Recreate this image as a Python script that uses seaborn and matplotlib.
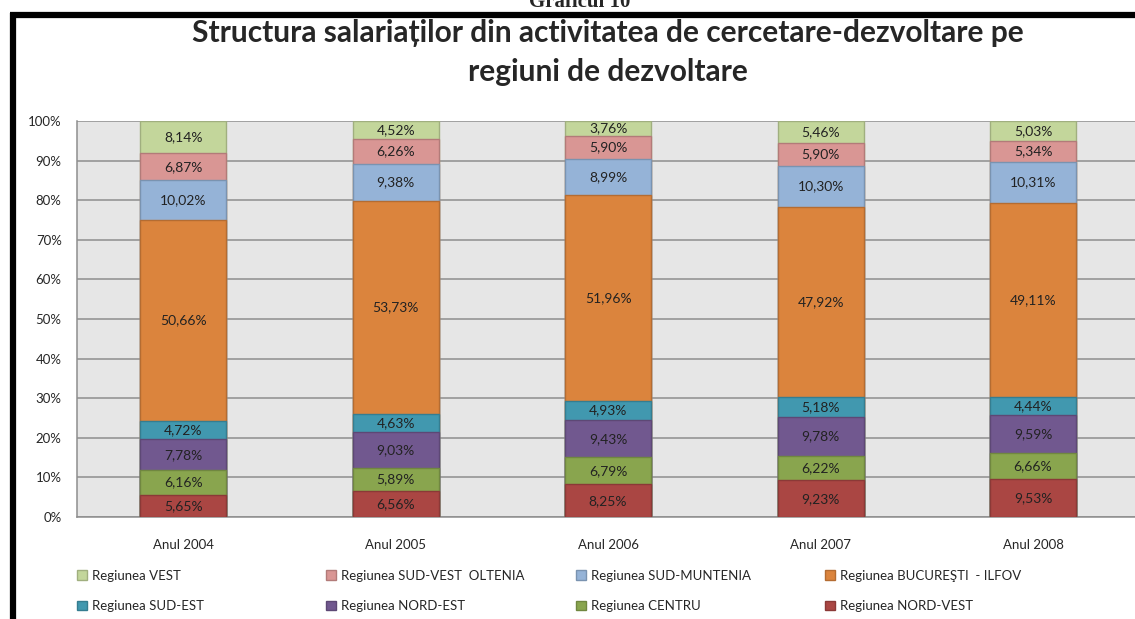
import numpy as np
import pandas as pd
import seaborn as sns
import matplotlib.pyplot as plt
import matplotlib.colors as mcolors
from matplotlib.lines import Line2D
from matplotlib.patches import Patch

ani = ['Anul 2004', 'Anul 2005', 'Anul 2006', 'Anul 2007', 'Anul 2008']

# serii de jos in sus
nord_vest = [5.65, 6.56, 8.25, 9.23, 9.53]
centru = [6.16, 5.89, 6.79, 6.22, 6.66]
nord_est = [7.78, 9.03, 9.43, 9.78, 9.59]
sud_est = [4.72, 4.63, 4.93, 5.18, 4.44]
bucuresti = [50.66, 53.73, 51.96, 47.92, 49.11]
sud_muntenia = [10.02, 9.38, 8.99, 10.30, 10.31]
sud_vest = [6.87, 6.26, 5.90, 5.90, 5.34]
vest = [8.14, 4.52, 3.76, 5.46, 5.03]

regiuni = ['Regiunea NORD-VEST', 'Regiunea CENTRU', 'Regiunea NORD-EST', 'Regiunea SUD-EST',
           'Regiunea BUCUREŞTI  - ILFOV', 'Regiunea SUD-MUNTENIA', 'Regiunea SUD-VEST  OLTENIA',
           'Regiunea VEST']
serii = [nord_vest, centru, nord_est, sud_est, bucuresti, sud_muntenia, sud_vest, vest]
culori = ['#AA4643', '#89A54E', '#71588F', '#4198AF', '#DB843D', '#95B3D7', '#D99694', '#C3D69B']

vals = np.array(serii)
pct = vals / vals.sum(axis=0) * 100
cum = np.cumsum(pct, axis=0)

sns.set_style("white")
plt.rcParams['font.family'] = ['Lato', 'DejaVu Sans']

fig = plt.figure(figsize=(11.35, 6.19), dpi=100)
W, H = 1135, 619
ax = fig.add_axes([77 / W, 102 / H, (W - 77) / W, 396 / H])
ax.set_facecolor('#e6e6e6')


def darker(c, f=0.82):
    r, g, b = mcolors.to_rgb(c)
    return (r * f, g * f, b * f)


# cele mai inalte bare primele, apoi suprapunere
for k in range(len(serii) - 1, -1, -1):
    df = pd.DataFrame({'an': ani, 'val': cum[k]})
    sns.barplot(data=df, x='an', y='val', color=culori[k], width=0.405,
                edgecolor=darker(culori[k]), linewidth=1.0, saturation=1,
                errorbar=None, ax=ax, zorder=3)

for k in range(len(serii)):
    for i in range(len(ani)):
        bottom = cum[k][i] - pct[k][i]
        txt = f"{vals[k][i]:.2f}".replace('.', ',') + '%'
        ax.text(i, bottom + pct[k][i] / 2, txt, ha='center', va='center',
                fontsize=10, color='#222222', zorder=5)

ax.set_xlim(-0.5, 4.48)
ax.set_ylim(0, 100)
ax.set_yticks(range(0, 101, 10))
ax.set_yticklabels([f"{v}%" for v in range(0, 101, 10)], fontsize=9.5)
ax.yaxis.grid(True, color='#8e8e8e', linewidth=1.1, zorder=0)
ax.set_axisbelow(True)
ax.set_xlabel('')
ax.set_ylabel('')
ax.set_xticks(range(len(ani)))
ax.set_xticklabels(ani, fontsize=9.5)
ax.set_xticks([0.5, 1.5, 2.5, 3.5], minor=True)
ax.tick_params(axis='x', which='major', length=0, pad=16)
ax.tick_params(axis='x', which='minor', length=4, color='#8e8e8e', direction='out')
ax.tick_params(axis='y', length=5, color='#8e8e8e', direction='out', pad=6)
for s in ['top', 'right']:
    ax.spines[s].set_visible(False)
for s in ['left', 'bottom']:
    ax.spines[s].set_color('#8e8e8e')
    ax.spines[s].set_linewidth(1.1)

fig.text(608 / W, 1 - 33 / H,
         'Structura salariaților din activitatea de cercetare-dezvoltare pe',
         ha='center', va='center', fontsize=21.5, fontweight='bold')
fig.text(608 / W, 1 - 72 / H, 'regiuni de dezvoltare',
         ha='center', va='center', fontsize=21.5, fontweight='bold')
fig.text(580 / W, 1 - 7 / H, 'Graficul 10', ha='center', va='baseline', fontsize=15,
         fontweight='bold', family='Liberation Serif')

# legenda: 4 coloane, 2 randuri
col_x = [74, 323, 573, 822]
ordine = [(7, 3), (6, 2), (5, 1), (4, 0)]
for cx, (a, b) in zip(col_x, ordine):
    handles = [Patch(facecolor=culori[a], edgecolor=darker(culori[a])),
               Patch(facecolor=culori[b], edgecolor=darker(culori[b]))]
    fig.legend(handles, [regiuni[a], regiuni[b]], loc='upper left',
               bbox_to_anchor=(cx / W, 1 - 567 / H), frameon=False, fontsize=9.5,
               handlelength=0.75, handleheight=0.75, handletextpad=0.4,
               labelspacing=1.4, borderaxespad=0, borderpad=0.2)

# chenar negru
fig.add_artist(Line2D([13 / W, 13 / W], [0, 1 - 13 / H], transform=fig.transFigure,
                      color='black', linewidth=4.5, solid_capstyle='butt'))
fig.add_artist(Line2D([10 / W, 1], [1 - 15 / H, 1 - 15 / H], transform=fig.transFigure,
                      color='black', linewidth=4.5, solid_capstyle='butt'))

fig.savefig('out.png', dpi=100)
